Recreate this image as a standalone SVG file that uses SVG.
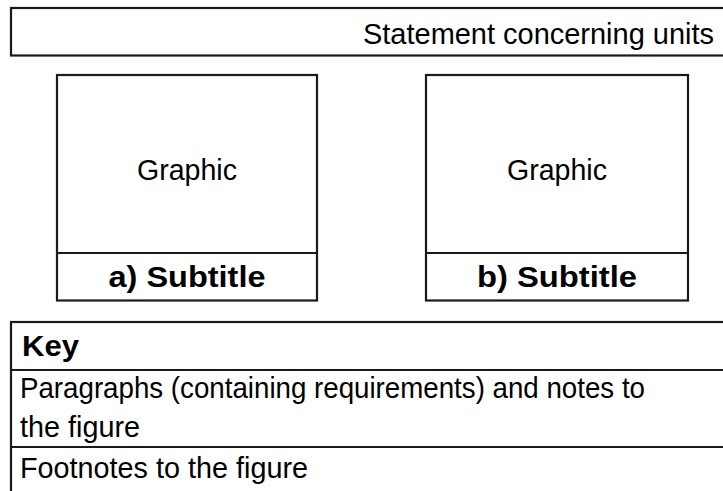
<svg xmlns="http://www.w3.org/2000/svg" width="723" height="491" viewBox="0 0 723 491">
<style>
.box{fill:#fff;stroke:#1a1a1a;stroke-width:2.2}
.ln{stroke:#1a1a1a;stroke-width:2.2}
.t{font-family:"Liberation Sans",Arial,sans-serif;font-size:29px;fill:#000}
.b{font-weight:bold}
</style>
<rect width="723" height="491" fill="#fff"/>
<g id="units">
<rect class="box" x="11" y="8" width="730" height="47.5"/>
<text class="t" x="714" y="44" text-anchor="end" textLength="351" lengthAdjust="spacingAndGlyphs">Statement concerning units</text>
</g>
<g id="figure-a">
<rect class="box" x="57" y="75" width="260" height="225.5"/>
<line class="ln" x1="57" y1="253" x2="317" y2="253"/>
<text class="t" x="187" y="180" text-anchor="middle" textLength="100" lengthAdjust="spacingAndGlyphs">Graphic</text>
<text class="t b" x="187" y="287" text-anchor="middle" textLength="157" lengthAdjust="spacingAndGlyphs">a) Subtitle</text>
</g>
<g id="figure-b">
<rect class="box" x="426" y="75" width="262" height="225.5"/>
<line class="ln" x1="426" y1="253" x2="688" y2="253"/>
<text class="t" x="557" y="180" text-anchor="middle" textLength="100" lengthAdjust="spacingAndGlyphs">Graphic</text>
<text class="t b" x="557" y="287" text-anchor="middle" textLength="160" lengthAdjust="spacingAndGlyphs">b) Subtitle</text>
</g>
<g id="key">
<rect class="box" x="11" y="322" width="730" height="200"/>
<line class="ln" x1="11" y1="370" x2="723" y2="370"/>
<line class="ln" x1="11" y1="447" x2="723" y2="447"/>
<text class="t b" x="22" y="356" textLength="57" lengthAdjust="spacingAndGlyphs">Key</text>
<text class="t" x="20" y="398" textLength="625" lengthAdjust="spacingAndGlyphs">Paragraphs (containing requirements) and notes to</text>
<text class="t" x="20" y="437" textLength="120" lengthAdjust="spacingAndGlyphs">the figure</text>
<text class="t" x="20" y="478" textLength="288" lengthAdjust="spacingAndGlyphs">Footnotes to the figure</text>
</g>
<g id="connectors"></g>
</svg>
